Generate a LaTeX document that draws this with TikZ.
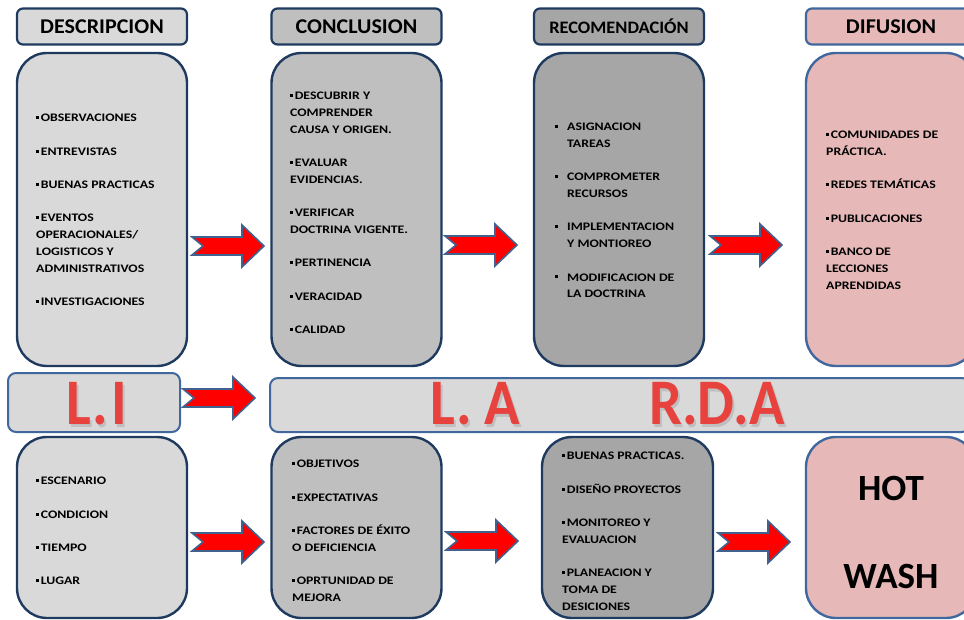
\documentclass[tikz,border=0pt]{standalone}
\usepackage{fontspec}
\setmainfont{Carlito}
\usetikzlibrary{calc}

\definecolor{grayA}{HTML}{D9D9D9}
\definecolor{grayB}{HTML}{BFBFBF}
\definecolor{grayC}{HTML}{A6A6A6}
\definecolor{pinkD}{HTML}{E6B9B8}
\definecolor{navy}{HTML}{1F3A5F}
\definecolor{steel}{HTML}{41689E}
\definecolor{arrowedge}{HTML}{41628F}
\definecolor{letterred}{HTML}{E8423F}

\newlength\itemgap
\setlength\itemgap{16.7pt}

\newfontfamily\itemfont[FakeStretch=1.2]{Carlito}
\newfontfamily\hdrfont[FakeStretch=1.05]{Carlito}
\newfontfamily\bigfont[FakeStretch=0.9]{Carlito}

\tikzset{
  hdr/.style={draw=navy, line width=2.2pt, rounded corners=6pt,
    minimum width=170pt, minimum height=36pt, inner sep=0pt,
    font=\hdrfont\bfseries\fontsize{21}{24}\selectfont},
  panel/.style={draw=navy, line width=2.4pt, rounded corners=30pt,
    minimum width=170pt, inner sep=0pt},
  bandbox/.style={draw=steel, line width=2pt, rounded corners=8pt, fill=grayA, inner sep=0pt},
  items/.style={align=left, anchor=north west, inner sep=0pt,
    font=\itemfont\bfseries\fontsize{11.5}{16.7}\selectfont},
  bigred/.style={text=letterred, inner sep=0pt,
    font=\bigfont\bfseries\fontsize{65}{65}\selectfont},
  bigshadow/.style={text=black!35, opacity=0.5, inner sep=0pt,
    font=\bigfont\bfseries\fontsize{65}{65}\selectfont},
  arrowstyle/.style={fill=red, draw=arrowedge, line width=1.6pt, line join=miter},
  notcharrow/.pic={
    \path[arrowstyle] (0,-9) -- (50,-9) -- (50,-21) -- (72,0) -- (50,21)
      -- (50,9) -- (0,9) -- (11,0) -- cycle;
  }
}

% small square bullet used in the item lists
\newcommand{\sq}{\raisebox{2.6pt}{\rule{3pt}{3pt}}\hspace{1.6pt}}
\newcommand{\bul}{\makebox[12pt][l]{\raisebox{2.6pt}{\rule{3pt}{3pt}}}}
\newcommand{\ind}{\hspace*{12pt}}

\begin{document}
\begin{tikzpicture}[x=1pt, y=-1pt]
\path[use as bounding box] (0,0) rectangle (964,620);
\clip (0,0) rectangle (964,620);

% column headers
\node[hdr, fill=grayA] (h1) at (102,26.5) {DESCRIPCION};
\node[hdr, fill=grayB] (h2) at (356.5,26.5) {CONCLUSION};
\node[hdr, fill=grayC, font=\hdrfont\bfseries\fontsize{17.5}{20}\selectfont] (h3) at (619,26.5) {RECOMENDACIÓN};
\node[hdr, fill=pinkD, draw=steel] (h4) at (891,26.5) {DIFUSION};

% upper panels
\node[panel, fill=grayA, minimum height=313pt] (p1) at (102,209.5) {};
\node[panel, fill=grayB, minimum height=313pt] (p2) at (356.5,209.5) {};
\node[panel, fill=grayC, minimum height=313pt] (p3) at (619,209.5) {};
\node[panel, fill=pinkD, draw=steel, minimum height=313pt] (p4) at (891,209.5) {};

\node[items] (t1) at (36,114) {\sq OBSERVACIONES\\[\itemgap]
\sq ENTREVISTAS\\[\itemgap]
\sq BUENAS PRACTICAS\\[\itemgap]
\sq EVENTOS\\OPERACIONALES/\\LOGISTICOS Y\\ADMINISTRATIVOS\\[\itemgap]
\sq INVESTIGACIONES};

\node[items] (t2) at (290,92) {\sq DESCUBRIR Y\\COMPRENDER\\CAUSA Y ORIGEN.\\[\itemgap]
\sq EVALUAR\\EVIDENCIAS.\\[\itemgap]
\sq VERIFICAR\\DOCTRINA VIGENTE.\\[\itemgap]
\sq PERTINENCIA\\[\itemgap]
\sq VERACIDAD\\[\itemgap]
\sq CALIDAD};

\node[items] (t3) at (555,123) {\bul ASIGNACION\\\ind TAREAS\\[\itemgap]
\bul COMPROMETER\\\ind RECURSOS\\[\itemgap]
\bul IMPLEMENTACION\\\ind Y MONTIOREO\\[\itemgap]
\bul MODIFICACION DE\\\ind LA DOCTRINA};

\node[items] (t4) at (826,131) {\sq COMUNIDADES DE\\PRÁCTICA.\\[\itemgap]
\sq REDES TEMÁTICAS\\[\itemgap]
\sq PUBLICACIONES\\[\itemgap]
\sq BANCO DE\\LECCIONES\\APRENDIDAS};

% middle band
\node[bandbox, minimum width=172pt, minimum height=59pt] (li) at (94,402.5) {};
\node[bandbox, minimum width=700pt, minimum height=54pt] (la) at (620,405) {};
\node[bigshadow] at (99,406.5) {L.\kern3pt I};
\node[bigred] (lit) at (97,404) {L.\kern3pt I};
\node[bigshadow] at (477,406.5) {L.\kern12pt A};
\node[bigred] (lat) at (475,404) {L.\kern12pt A};
\node[bigshadow] at (719,406.5) {R.D.A};
\node[bigred] (rda) at (717,404) {R.D.A};

% lower panels
\node[panel, fill=grayA, minimum height=181pt] (q1) at (102,527.5) {};
\node[panel, fill=grayB, minimum height=181pt] (q2) at (356.5,527.5) {};
\node[panel, fill=grayC, minimum width=171pt, minimum height=181pt] (q3) at (627.5,527.5) {};
\node[panel, fill=pinkD, draw=steel, minimum height=181pt] (q4) at (891,527.5) {};

\node[items] (u1) at (36,477) {\sq ESCENARIO\\[\itemgap]
\sq CONDICION\\[\itemgap]
\sq TIEMPO\\[\itemgap]
\sq LUGAR};

\node[items] (u2) at (292,460) {\sq OBJETIVOS\\[\itemgap]
\sq EXPECTATIVAS\\[\itemgap]
\sq FACTORES DE ÉXITO\\O DEFICIENCIA\\[\itemgap]
\sq OPRTUNIDAD DE\\MEJORA};

\node[items] (u3) at (562,452) {\sq BUENAS PRACTICAS.\\[\itemgap]
\sq DISEÑO PROYECTOS\\[\itemgap]
\sq MONITOREO Y\\EVALUACION\\[\itemgap]
\sq PLANEACION Y\\TOMA DE\\DESICIONES};

\node[font=\bfseries\fontsize{37}{40}\selectfont, inner sep=0pt] (hot) at (891,488) {HOT};
\node[font=\bfseries\fontsize{37}{40}\selectfont, inner sep=0pt] (wash) at (891,576) {WASH};

% block arrows between the columns
\coordinate (a1) at (192,246);
\coordinate (a2) at (445,245);
\coordinate (a3) at (710,245);
\coordinate (am) at (183,398);
\coordinate (b1) at (192,542);
\coordinate (b2) at (446,541);
\coordinate (b3) at (718,542);
\foreach \c in {a1,a2,a3,am,b1,b2,b3} { \pic at (\c) {notcharrow}; }
\end{tikzpicture}
\end{document}
